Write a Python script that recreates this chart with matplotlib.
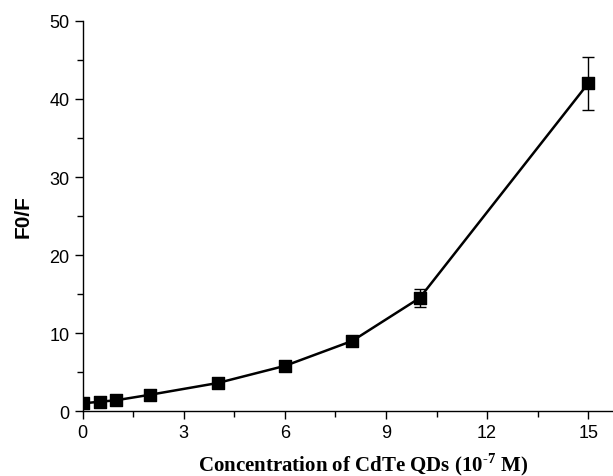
import matplotlib
matplotlib.use("Agg")
import matplotlib.pyplot as plt
from matplotlib.ticker import MultipleLocator

plt.rcParams['mathtext.fontset'] = 'custom'
plt.rcParams['mathtext.rm'] = 'Liberation Serif'
plt.rcParams['mathtext.bf'] = 'Liberation Serif:bold'

conc = [0, 0.5, 1, 2, 4, 6, 8, 10, 15]
f0f = [1.0, 1.2, 1.4, 2.1, 3.6, 5.8, 9.0, 14.5, 42.0]
err = [0.1, 0.1, 0.1, 0.2, 0.3, 0.3, 0.4, 1.2, 3.4]
xticks = [0, 3, 6, 9, 12, 15]
yticks = [0, 10, 20, 30, 40, 50]

fig = plt.figure(figsize=(6.13, 4.77), dpi=100)
ax = fig.add_axes([0.135, 0.136, 0.863, 0.818])
ax.errorbar(conc, f0f, yerr=err, fmt='none', ecolor='black', elinewidth=1,
            capsize=4, capthick=1)
ax.plot(conc, f0f, color='black', lw=1.8)
ax.scatter(conc, f0f, marker='s', s=68, color='black', zorder=3, clip_on=True)
ax.set_xlim(0, 15.7)
ax.set_ylim(0, 50)
ax.set_xticks(xticks)
ax.set_yticks(yticks)
ax.xaxis.set_minor_locator(MultipleLocator(1.5))
ax.yaxis.set_minor_locator(MultipleLocator(5))
for s in ['top', 'right']:
    ax.spines[s].set_visible(False)
for s in ['left', 'bottom']:
    ax.spines[s].set_linewidth(1.0)
ax.tick_params(which='major', direction='out', length=6, width=1, labelsize=13)
ax.tick_params(which='minor', direction='out', length=4, width=1)
for lbl in ax.get_xticklabels() + ax.get_yticklabels():
    lbl.set_fontfamily('Liberation Sans')
ax.set_xlabel('Concentration of CdTe QDs (10$^{\\mathbf{\u20107}}$ M)', fontfamily='Liberation Serif',
              fontweight='bold', fontsize=15)
ax.xaxis.set_label_coords((363 - 83) / 529, -0.1)
ax.set_ylabel('F0/F', fontfamily='Liberation Sans', fontweight='bold', fontsize=15, labelpad=12)
fig.savefig('out.png', dpi=100)
